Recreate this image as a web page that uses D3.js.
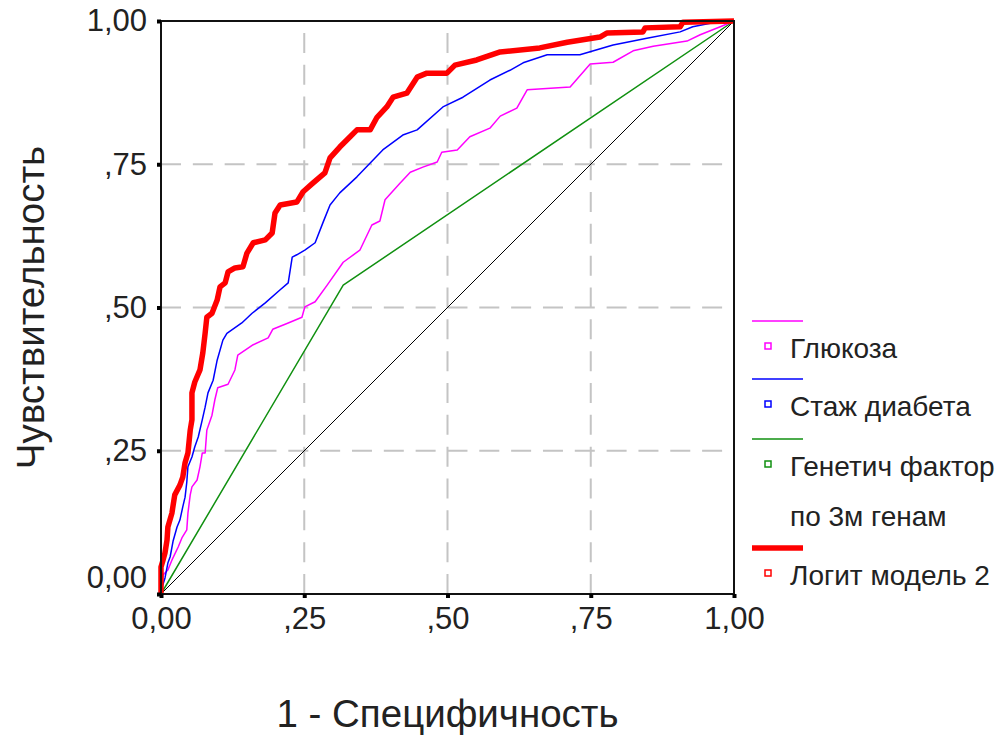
<!DOCTYPE html>
<html>
<head>
<meta charset="utf-8">
<script src="https://cdn.jsdelivr.net/npm/d3@7"></script>
<style>
  body { margin: 0; background: #fff; }
  svg text { font-family: "Liberation Sans", Arial, sans-serif; fill: #222; }
</style>
</head>
<body>
<svg id="chart" width="1008" height="735"></svg>
<script>
// tick values and labels
const ticks = [0, 0.25, 0.5, 0.75, 1];
const tickLabels = ['0,00', ',25', ',50', ',75', '1,00'];

// ROC curves (1 - specificity, sensitivity)
const glucoseX = [0,.0035,.012,.019,.030,.037,.045,.047,.051,.054,.063,.068,.072,.077,.080,.089,.094,.099,.117,.129,.134,.161,.187,.195,.222,.246,.251,.269,.290,.318,.347,.368,.382,.391,.417,.435,.457,.482,.490,.517,.539,.574,.592,.621,.639,.714,.749,.789,.824,.859,.918,.941,.976,1];
const glucoseY = [0,.033,.042,.059,.082,.099,.112,.141,.173,.187,.199,.222,.246,.246,.286,.312,.339,.360,.366,.391,.417,.435,.447,.462,.473,.483,.501,.510,.539,.579,.600,.644,.651,.688,.717,.736,.745,.754,.771,.775,.798,.813,.834,.848,.880,.885,.925,.928,.948,.956,.965,.976,.990,1];

const stageX = [0,.002,.007,.012,.016,.021,.028,.033,.038,.042,.045,.047,.054,.059,.065,.072,.077,.082,.091,.098,.108,.115,.141,.159,.182,.208,.222,.229,.237,.251,.269,.283,.295,.312,.342,.387,.422,.447,.492,.527,.574,.609,.632,.674,.731,.789,.848,.906,.928,.963,1];
const stageY = [0,.012,.028,.054,.065,.092,.117,.129,.152,.169,.195,.222,.239,.257,.274,.304,.326,.351,.373,.408,.443,.455,.473,.490,.508,.531,.543,.588,.592,.600,.613,.649,.679,.700,.728,.775,.801,.810,.850,.867,.897,.914,.927,.941,.941,.958,.970,.981,.990,.997,1];

const geneX = [0, .318, 1];
const geneY = [0, .539, 1];

const logitX = [0,0,.0035,.007,.0105,.012,.019,.024,.033,.038,.042,.047,.051,.054,.054,.059,.068,.073,.077,.080,.089,.098,.103,.112,.117,.129,.143,.150,.161,.182,.194,.199,.208,.237,.248,.265,.286,.295,.312,.330,.342,.365,.377,.394,.405,.429,.447,.464,.499,.513,.551,.592,.661,.709,.766,.778,.841,.845,.906,.911,1];
const logitY = [0,.047,.059,.072,.094,.117,.141,.173,.190,.204,.229,.246,.286,.304,.351,.370,.391,.421,.455,.483,.490,.513,.536,.543,.562,.569,.571,.595,.613,.618,.630,.665,.679,.684,.702,.717,.735,.761,.780,.798,.810,.810,.832,.850,.867,.874,.902,.909,.909,.923,.932,.946,.953,.963,.972,.979,.981,.988,.990,.998,1];

const refX = [0, 1];
const refY = [0, 1];

const seriesNames = ['Глюкоза', 'Стаж диабета', 'Генетич фактор|по 3м генам', 'Логит модель 2'];

const svg = d3.select('#chart');
const plotLeft = 161, plotTop = 21, plotW = 573, plotH = 573;

const x = d3.scaleLinear().domain([0, 1]).range([plotLeft, plotLeft + plotW]);
const y = d3.scaleLinear().domain([0, 1]).range([plotTop + plotH, plotTop]);

// dashed grid
const grid = svg.append('g');
ticks.slice(1, 4).forEach(t => {
    grid.append('line')
        .attr('x1', x(0)).attr('x2', x(1)).attr('y1', y(t)).attr('y2', y(t));
    grid.append('line')
        .attr('x1', x(t)).attr('x2', x(t)).attr('y1', y(0)).attr('y2', y(1));
});
grid.selectAll('line')
    .attr('stroke', '#c4c4c4')
    .attr('stroke-width', 2)
    .attr('stroke-dasharray', '20,11.83');

// curves
const line = d3.line().x(d => x(d[0])).y(d => y(d[1]));
const series = [
    { xs: refX, ys: refY, color: '#000000', width: 1 },
    { xs: geneX, ys: geneY, color: '#109010', width: 1.5 },
    { xs: glucoseX, ys: glucoseY, color: '#ff00ff', width: 1.5 },
    { xs: stageX, ys: stageY, color: '#0000ff', width: 1.5 },
    { xs: logitX, ys: logitY, color: '#ff0000', width: 5.5 }
];
series.forEach(s => {
    svg.append('path')
        .datum(s.xs.map((v, i) => [v, s.ys[i]]))
        .attr('fill', 'none')
        .attr('stroke', s.color)
        .attr('stroke-width', s.width)
        .attr('stroke-linejoin', 'round')
        .attr('d', line);
});

// frame
svg.append('rect')
    .attr('x', plotLeft).attr('y', plotTop).attr('width', plotW).attr('height', plotH)
    .attr('fill', 'none').attr('stroke', '#111').attr('stroke-width', 2);

// axes
const xAxis = svg.append('g')
    .attr('transform', `translate(0,${plotTop + plotH})`)
    .call(d3.axisBottom(x).tickValues(ticks).tickFormat((d, i) => tickLabels[i])
        .tickSizeInner(4).tickSizeOuter(0).tickPadding(9));
const yAxis = svg.append('g')
    .attr('transform', `translate(${plotLeft},0)`)
    .call(d3.axisLeft(y).tickValues(ticks).tickFormat((d, i) => tickLabels[i])
        .tickSizeInner(4).tickSizeOuter(0).tickPadding(10));
[xAxis, yAxis].forEach(a => {
    a.select('.domain').remove();
    a.selectAll('.tick line').attr('stroke', '#000').attr('stroke-width', 4);
    a.selectAll('.tick text').attr('font-size', 31).attr('fill', '#333');
});
// lift the y-axis zero label off the corner
yAxis.selectAll('.tick text').filter(d => d === 0).attr('dy', '-0.2em');

// axis titles
svg.append('text')
    .attr('x', x(0.5)).attr('y', 727)
    .attr('text-anchor', 'middle')
    .attr('font-size', 38.5)
    .text('1 - Специфичность');
svg.append('text')
    .attr('transform', `translate(44,${y(0.5)}) rotate(-90)`)
    .attr('text-anchor', 'middle')
    .attr('font-size', 38.5)
    .text('Чувствительность');

// legend
const legendColors = ['#ff00ff', '#0000ff', '#109010', '#ff0000'];
const legendWidths = [1.5, 1.5, 1.5, 5.5];
const lineYs = [321, 379, 439, 548];
const lg = svg.append('g');
seriesNames.forEach((name, i) => {
    const ly = lineYs[i];
    lg.append('line')
        .attr('x1', 752).attr('x2', 803).attr('y1', ly).attr('y2', ly)
        .attr('stroke', legendColors[i]).attr('stroke-width', legendWidths[i]);
    lg.append('rect')
        .attr('x', 765).attr('y', ly + 22).attr('width', 6).attr('height', 6)
        .attr('fill', 'none').attr('stroke', legendColors[i]).attr('stroke-width', 1.5);
    name.split('|').forEach((part, j) => {
        lg.append('text')
            .attr('x', 790).attr('y', ly + 27 + j * 50)
            .attr('dy', '0.35em')
            .attr('font-size', 28)
            .text(part);
    });
});
</script>
</body>
</html>
